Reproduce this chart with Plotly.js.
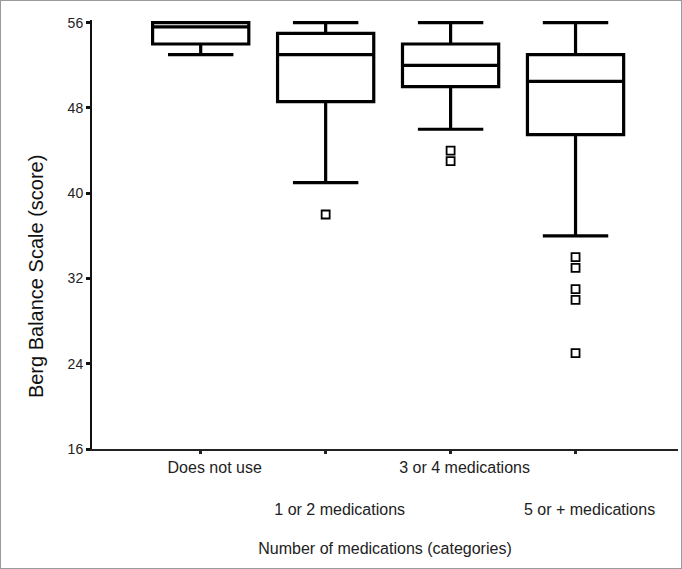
<!DOCTYPE html>
<html>
<head>
<meta charset="utf-8">
<script src="https://cdn.plot.ly/plotly-3.0.1.min.js"></script>
<style>
  html, body { margin: 0; padding: 0; background: #fff; }
  #frame { width: 682px; height: 569px; box-sizing: border-box; border: 1px solid #9a9a9a; position: relative; }
  #chart { width: 680px; height: 567px; }
</style>
</head>
<body>
<div id="frame"><div id="chart"></div></div>
<script>
// Categories and tick labels
const categories = ["Does not use", "1 or 2 medications", "3 or 4 medications", "5 or + medications"];
const tickLabels = ["Does not use", "<br><br>1 or 2 medications", "3 or 4 medications", "<br><br>5 or + medications"];
const xTitle = "Number of medications (categories)";
const yTitle = "Berg Balance Scale (score)";

// Box statistics (Berg Balance Scale score)
const lowerFence = [53, 41, 46, 36];
const q1Values   = [54, 48.6, 50, 45.5];
const medians    = [55.6, 53, 52, 50.5];
const q3Values   = [56, 55, 54, 53];
const upperFence = [56, 56, 56, 56];

// Outliers
const outlierCats   = ["1 or 2 medications", "3 or 4 medications", "3 or 4 medications",
                       "5 or + medications", "5 or + medications", "5 or + medications",
                       "5 or + medications", "5 or + medications"];
const outlierValues = [38, 44, 43, 34, 33, 31, 30, 25];

const traces = [
  {
    type: "box",
    x: categories,
    q1: q1Values,
    median: medians,
    q3: q3Values,
    lowerfence: lowerFence,
    upperfence: upperFence,
    width: 0.77,
    whiskerwidth: 0.68,
    fillcolor: "#ffffff",
    line: { color: "#000000", width: 3.2 },
    boxpoints: false,
    hoverinfo: "skip",
    showlegend: false
  },
  {
    type: "scatter",
    mode: "markers",
    x: outlierCats,
    y: outlierValues,
    marker: { symbol: "square-open", size: 8, color: "#000000", line: { width: 1.8, color: "#000000" } },
    hoverinfo: "skip",
    showlegend: false
  }
];

const layout = {
  width: 680,
  height: 567,
  margin: { l: 91, r: 3, t: 19, b: 119 },
  paper_bgcolor: "#ffffff",
  plot_bgcolor: "#ffffff",
  font: { family: "Liberation Sans, Arial, sans-serif", color: "#222222" },
  showlegend: false,
  xaxis: {
    type: "category",
    categoryorder: "array",
    categoryarray: categories,
    range: [-0.87, 3.82],
    tickvals: categories,
    ticktext: tickLabels,
    tickangle: 0,
    tickfont: { size: 16, color: "#222222" },
    ticklabelshift: 14,
    ticks: "outside",
    ticklen: 3,
    tickwidth: 3,
    tickcolor: "#222222",
    showline: true,
    linecolor: "#222222",
    linewidth: 2,
    showgrid: false,
    zeroline: false,
    title: { text: xTitle, font: { size: 16, color: "#222222" }, standoff: 26 }
  },
  yaxis: {
    range: [16, 56.25],
    tickvals: [16, 24, 32, 40, 48, 56],
    ticks: "outside",
    ticklen: 4,
    tickwidth: 3,
    tickcolor: "#111111",
    tickfont: { size: 14, color: "#222222" },
    showline: true,
    linecolor: "#111111",
    linewidth: 2,
    showgrid: false,
    zeroline: false
  },
  annotations: [
    {
      text: yTitle,
      xref: "paper", yref: "paper",
      x: -0.0956, y: 0.403,
      xanchor: "center", yanchor: "middle",
      textangle: -90,
      showarrow: false,
      font: { size: 20, color: "#111111" }
    }
  ]
};

Plotly.newPlot("chart", traces, layout, { displayModeBar: false, staticPlot: true });
</script>
</body>
</html>
